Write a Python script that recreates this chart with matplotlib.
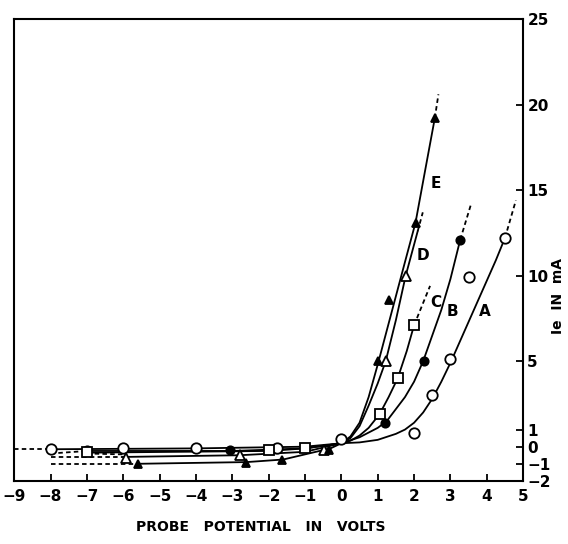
import matplotlib
matplotlib.use("Agg")
import matplotlib.pyplot as plt

# measured points (probe potential V, electron current mA)
a_x = [-8, -6, -4, -1.77, 0.0, 2.0, 2.5, 3.0, 3.52, 4.5]
a_y = [-0.15, -0.1, -0.1, -0.1, 0.45, 0.8, 3.0, 5.1, 9.9, 12.2]
b_x = [-7, -3.05, 1.2, 2.27, 3.27]
b_y = [-0.2, -0.2, 1.4, 5.0, 12.1]
c_x = [-7, -2.0, -1.0, 1.05, 1.55, 2.0]
c_y = [-0.3, -0.2, -0.1, 1.9, 4.0, 7.1]
d_x = [-5.93, -2.8, -0.47, 1.22, 1.77]
d_y = [-0.65, -0.5, -0.2, 5.0, 10.0]
e_x = [-5.6, -2.63, -1.63, -0.33, 1.02, 1.3, 2.04, 2.57]
e_y = [-1.0, -0.95, -0.8, -0.2, 5.0, 8.6, 13.1, 19.2]

# drawn curves
a_lx = [-8, -4, -1, 0, 0.5, 1.0, 1.5, 1.75, 2.0, 2.25, 2.5, 2.75, 3.0,
        3.25, 3.5, 3.75, 4.0, 4.25, 4.5]
a_ly = [-0.15, -0.1, 0.0, 0.2, 0.25, 0.4, 0.75, 1.0, 1.4, 2.0, 2.8, 3.8,
        4.9, 6.1, 7.3, 8.5, 9.7, 10.9, 12.2]
b_lx = [-7, -3, -1, 0, 0.5, 1.0, 1.25, 1.5, 1.75, 2.0, 2.25, 2.5, 2.75,
        3.0, 3.27]
b_ly = [-0.25, -0.25, -0.1, 0.2, 0.55, 1.1, 1.5, 2.2, 2.9, 3.8, 5.0, 6.5,
        8.0, 9.8, 12.1]
c_lx = [-7, -2, -1, 0, 0.25, 0.5, 0.75, 1.05, 1.3, 1.55, 1.8, 2.0]
c_ly = [-0.35, -0.25, -0.1, 0.2, 0.35, 0.65, 1.1, 1.9, 2.9, 4.0, 5.6, 7.1]
d_lx = [-6, -2.8, -1, 0, 0.25, 0.5, 0.75, 1.0, 1.22, 1.5, 1.77, 2.1]
d_ly = [-0.6, -0.5, -0.3, 0.2, 0.5, 1.2, 2.4, 3.7, 5.0, 7.4, 10.0, 12.6]
e_lx = [-5.6, -2.6, -1.6, -0.3, 0, 0.25, 0.5, 0.75, 1.0, 1.25, 1.5, 1.75,
        2.04, 2.3, 2.57]
e_ly = [-1.0, -0.9, -0.75, -0.1, 0.2, 0.6, 1.4, 2.9, 4.8, 6.8, 8.8, 10.8,
        13.1, 16.1, 19.2]

# dashed extrapolations
a_dx = [[-9, -8], [4.5, 4.8]]
a_dy = [[-0.15, -0.15], [12.2, 14.4]]
b_dx = [[-8, -7], [3.27, 3.57]]
b_dy = [[-0.4, -0.25], [12.1, 14.2]]
c_dx = [[-7, -6], [2.0, 2.44]]
c_dy = [[-0.4, -0.45], [7.1, 9.4]]
d_dx = [[-8, -6], [2.1, 2.24]]
d_dy = [[-0.6, -0.6], [12.6, 13.7]]
e_dx = [[-8, -5.6], [2.57, 2.67]]
e_dy = [[-1.0, -1.0], [19.2, 20.6]]

labels = ["A", "B", "C", "D", "E"]
label_x = [3.95, 3.05, 2.6, 2.25, 2.6]
label_y = [7.9, 7.9, 8.4, 11.2, 15.4]

xticks = [-9, -8, -7, -6, -5, -4, -3, -2, -1, 0, 1, 2, 3, 4, 5]
yticks = [25, 20, 15, 10, 5, 1, 0, -1, -2]

plt.rcParams['font.family'] = ['DejaVu Sans']
fig = plt.figure(figsize=(5.68, 5.44), dpi=100)
ax = fig.add_axes([0.025, 0.116, 0.896, 0.849])

curves = [
    (a_x, a_y, a_lx, a_ly, a_dx, a_dy, 'o', 'white'),
    (b_x, b_y, b_lx, b_ly, b_dx, b_dy, 'o', 'black'),
    (c_x, c_y, c_lx, c_ly, c_dx, c_dy, 's', 'white'),
    (d_x, d_y, d_lx, d_ly, d_dx, d_dy, '^', 'white'),
    (e_x, e_y, e_lx, e_ly, e_dx, e_dy, '^', 'black'),
]
for px, py, lx, ly, dx, dy, mk, fc in curves:
    ax.plot(lx, ly, color='black', lw=1.3, zorder=2)
    for sx, sy in zip(dx, dy):
        ax.plot(sx, sy, color='black', lw=1.3, ls=(0, (2.5, 1.8)), zorder=2)
    ms = 7.5 if fc == 'white' else 6
    if mk == 's':
        ms = 7
    ax.plot(px, py, ls='none', marker=mk, ms=ms, mfc=fc, mec='black',
            mew=1.3, zorder=3)

for t, tx, ty in zip(labels, label_x, label_y):
    ax.text(tx, ty, t, fontsize=11, fontweight='bold', ha='center',
            va='center')

ax.set_xlim(-9, 5)
ax.set_ylim(-2, 25)
ax.set_xticks(xticks)
ax.set_xticklabels([str(v).replace('-', '\u2212') for v in xticks],
                   fontweight='bold')
ax.yaxis.tick_right()
ax.set_yticks(yticks)
ax.set_yticklabels([str(v).replace('-', '\u2212') for v in yticks],
                   fontweight='bold')
ax.tick_params(axis='x', direction='in', length=5, width=1.3, labelsize=11,
               pad=6)
ax.tick_params(axis='y', direction='in', length=5, width=1.3, labelsize=11,
               pad=3)
for s in ax.spines.values():
    s.set_linewidth(1.5)

ax.set_xlabel('PROBE   POTENTIAL   IN   VOLTS', fontsize=10,
              fontweight='bold')
ax.xaxis.set_label_coords(0.485, -0.085)
ax.set_ylabel('Ie  IN  mA', fontsize=10, fontweight='bold', rotation=90)
ax.yaxis.set_label_position('right')
ax.yaxis.set_label_coords(1.055, 0.40)

fig.savefig('out.png', dpi=100)
